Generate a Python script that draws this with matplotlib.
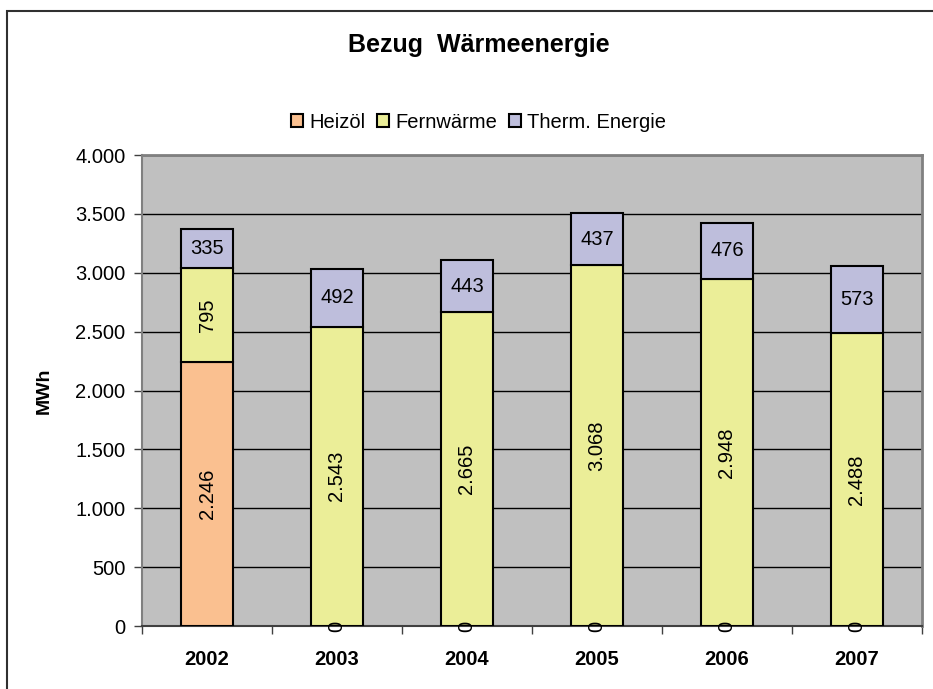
import matplotlib.pyplot as plt
from matplotlib.patches import Rectangle
from matplotlib.ticker import FuncFormatter, FixedLocator
import numpy as np

plt.rcParams['font.family'] = ['Liberation Sans', 'DejaVu Sans']

''' Data '''
years = ['2002', '2003', '2004', '2005', '2006', '2007']
heizoel = [2246, 0, 0, 0, 0, 0]
fernwaerme = [795, 2543, 2665, 3068, 2948, 2488]
therm = [335, 492, 443, 437, 476, 573]

series_names = ['Heizöl', 'Fernwärme', 'Therm. Energie']
colors = ['#FAC090', '#EBEE98', '#BEBEDC']

def de_fmt(v, pos=None):
    # german thousands separator
    return '{:,.0f}'.format(v).replace(',', '.')

''' Plot '''
fig = plt.figure(figsize=(9.33, 6.89), dpi=100)
ax = fig.add_axes([0.1522, 0.0914, 0.836, 0.6836])
ax.set_facecolor('#C0C0C0')

x = np.arange(len(years))
width = 0.4
bottom = np.zeros(len(years))
for vals, name, col in zip([heizoel, fernwaerme, therm], series_names, colors):
    vals = np.array(vals, dtype=float)
    ax.bar(x, vals, width, bottom=bottom, color=col, edgecolor='black', linewidth=1.5, label=name, zorder=3)
    for xi, b, v in zip(x, bottom, vals):
        rot = 0 if name == 'Therm. Energie' else 90
        ax.text(xi, b + v/2, de_fmt(v), ha='center', va='center', rotation=rot, fontsize=14.5, zorder=4)
    bottom += vals

# axes formatting
ax.set_ylim(0, 4000)
ax.set_xlim(-0.5, len(years) - 0.5)
ax.yaxis.set_major_locator(FixedLocator(np.arange(0, 4001, 500)))
ax.yaxis.set_major_formatter(FuncFormatter(de_fmt))
ax.grid(axis='y', color='black', linewidth=1, zorder=1)
ax.set_axisbelow(True)

ax.set_xticks(x)
ax.set_xticklabels(years, fontsize=14.5, weight='bold')
ax.set_xticks(np.arange(-0.5, len(years), 1), minor=True)
ax.tick_params(axis='x', which='major', length=0, pad=17)
ax.tick_params(axis='x', which='minor', length=6, width=1, color='#404040', direction='out')
ax.tick_params(axis='y', length=6, width=1, color='#404040', labelsize=14.5, pad=6)

for s in ['top', 'right']:
    ax.spines[s].set_color('#808080')
    ax.spines[s].set_linewidth(2)
ax.spines['left'].set_color('#808080')
ax.spines['left'].set_linewidth(1.5)
ax.spines['bottom'].set_color('#404040')
ax.spines['bottom'].set_linewidth(1.5)

ax.set_ylabel('MWh', fontsize=14, weight='bold', labelpad=16)

# legend
ax.legend(loc='center', bbox_to_anchor=(0.513, 0.8229), bbox_transform=fig.transFigure, ncol=3, frameon=False,
          fontsize=14.5, handlelength=0.6, handleheight=0.6, handletextpad=0.3, columnspacing=0.6)

fig.text(0.513, 1 - 45/689, 'Bezug  Wärmeenergie', ha='center', va='center', fontsize=18, weight='bold')

# outer chart border
fig.patches.append(Rectangle((7/933, -0.1), 1.2, 1 - 11/689 + 0.1, transform=fig.transFigure,
                             fill=False, edgecolor='#303030', linewidth=1.5))

plt.savefig('out.png', dpi=100)
